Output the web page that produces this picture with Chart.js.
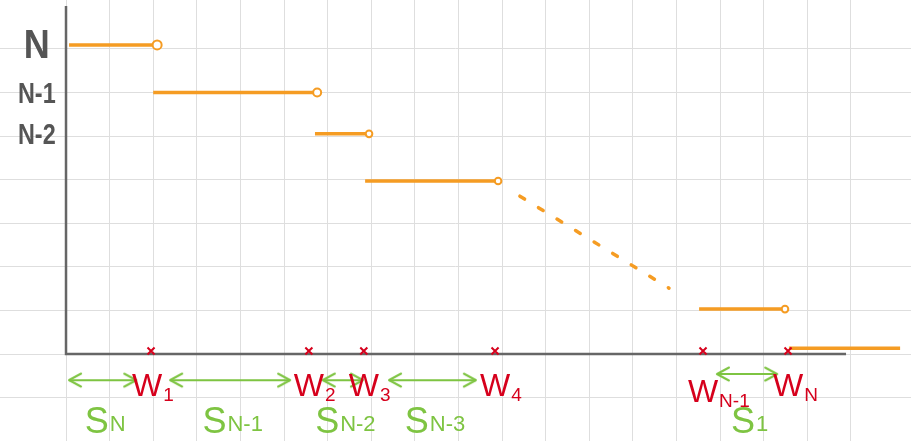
<!DOCTYPE html>
<html><head><meta charset="utf-8">
<script src="https://cdn.jsdelivr.net/npm/chart.js@4/dist/chart.umd.min.js"></script>
<style>html,body{margin:0;padding:0;background:#fff;overflow:hidden}canvas{display:block}</style>
</head><body>
<canvas id="c" width="911" height="441"></canvas>
<script>
// Values in "grid squares" of the sketch paper; origin at the corner of the axes.
const stepLevels = [7.09, 6.0, 5.05, 3.97, 1.03, 0.13];
const stepStarts = [0.07, 2.0, 5.71, 6.86, 14.52, 16.58];
const stepEnds   = [2.09, 5.76, 6.95, 9.91, 16.49, 19.13];
const openEnds   = [true, true, true, true, true, false];
const levelLabels = ['N', 'N-1', 'N-2'];
const trailX = [10.41, 13.83];
const trailY = [3.62, 1.51];
const wPositions = [1.95, 5.57, 6.83, 9.84, 14.61, 16.56];
const wSubs = ['1', '2', '3', '4', 'N-1', 'N'];
const sFrom = [0.07, 2.39, 5.89, 7.41, 14.93];
const sTo   = [1.61, 5.14, 6.81, 9.40, 16.31];
const sLevels = [-0.6, -0.6, -0.6, -0.6, -0.46];
const sSubs = ['N', 'N-1', 'N-2', 'N-3', '1'];
const axisTop = 7.98, axisRight = 17.89;
const xMin = -1.514, xMax = 19.38, yMin = -1.995, yMax = 8.12;

const ORANGE = 'rgb(245,156,35)', RED = 'rgb(214,0,28)', GREEN = 'rgb(126,196,66)', AXIS = '#666';
const FONT = '"Liberation Sans", "DejaVu Sans", sans-serif';

// step segments, broken by null points
const stepData = [];
stepLevels.forEach((v, i) => {
  stepData.push({x: stepStarts[i], y: v}, {x: stepEnds[i], y: v}, {x: stepEnds[i], y: null});
});
const circleData = [];
const circleR = [];
stepLevels.forEach((v, i) => {
  if (openEnds[i]) { circleData.push({x: stepEnds[i], y: v}); circleR.push(i === 0 ? 4.5 : (i === 1 ? 4 : 3.3)); }
});
const crossData = wPositions.map(x => ({x, y: 0.07}));
const arrowData = [];
sFrom.forEach((a, i) => {
  arrowData.push({x: a, y: sLevels[i]}, {x: sTo[i], y: sLevels[i]}, {x: sTo[i], y: null});
});

// open chevron arrow head (tip at centre of the image)
const head = document.createElement('canvas');
head.width = 30; head.height = 18;
(() => {
  const g = head.getContext('2d');
  g.strokeStyle = GREEN; g.lineWidth = 2; g.lineCap = 'round'; g.lineJoin = 'round';
  g.beginPath(); g.moveTo(3, 2.5); g.lineTo(15, 9); g.lineTo(3, 15.5); g.stroke();
})();

function drawLabel(ctx, main, sub, px, py, color, mSize, sSize, subDy) {
  ctx.save();
  ctx.fillStyle = color;
  ctx.textBaseline = 'alphabetic';
  ctx.font = mSize + 'px ' + FONT;
  ctx.textAlign = 'center';
  const mw = ctx.measureText(main).width;
  ctx.fillText(main, px, py);
  if (sub) {
    ctx.font = sSize + 'px ' + FONT;
    ctx.textAlign = 'left';
    ctx.fillText(sub, px + mw / 2 + 1, py + subDy);
  }
  ctx.restore();
}

const sketchText = {
  id: 'sketchText',
  afterDatasetsDraw(chart) {
    const {ctx, scales: {x, y}} = chart;
    // level labels on the vertical axis
    levelLabels.forEach((t, i) => {
      ctx.save();
      ctx.fillStyle = '#555';
      ctx.font = 'bold ' + (i === 0 ? 40 : 30) + 'px ' + FONT;
      ctx.textAlign = 'center';
      ctx.textBaseline = 'middle';
      ctx.translate(x.getPixelForValue(-0.67), y.getPixelForValue(stepLevels[i]) + 2);
      ctx.scale(i === 0 ? 0.9 : 0.78, 1);
      ctx.fillText(t, 0, 0);
      ctx.restore();
    });
    // W labels (the N-1 one sits a little lower, under the S1 arrow)
    wPositions.forEach((w, i) => {
      const dy = wSubs[i] === 'N-1' ? 6 : 0;
      drawLabel(ctx, 'W', wSubs[i], x.getPixelForValue(w) + (i === 0 ? -4 : 0), y.getPixelForValue(-0.96) + dy, RED, 32, 19, 5);
    });
    // S labels
    const sBase = Math.min(...sLevels) - 1.22;
    sFrom.forEach((a, i) => {
      const mid = (a + sTo[i]) / 2;
      const sub = sSubs[i];
      ctx.save();
      ctx.font = '22px ' + FONT;
      const sw = ctx.measureText(sub).width;
      ctx.restore();
      drawLabel(ctx, 'S', sub, x.getPixelForValue(mid) - sw / 2 + 2, y.getPixelForValue(sBase), GREEN, 36, 22, -2);
    });
  }
};

new Chart(document.getElementById('c'), {
  type: 'scatter',
  data: {
    datasets: [
      {data: crossData, pointStyle: 'crossRot', pointRadius: 5, borderColor: RED, pointBorderWidth: 2, showLine: false, order: 0},
      {data: circleData, pointRadius: circleR, pointBackgroundColor: '#fff', pointBorderColor: ORANGE, pointBorderWidth: 2, showLine: false, order: 1},
      {data: stepData, showLine: true, borderColor: ORANGE, borderWidth: 3.5, pointRadius: 0, spanGaps: false, order: 2},
      {data: trailX.map((v, i) => ({x: v, y: trailY[i]})), showLine: true, borderColor: ORANGE, borderWidth: 3.5,
       borderDash: [5.5, 16.3], borderCapStyle: 'round', pointRadius: 0, order: 3},
      {data: arrowData, showLine: true, borderColor: GREEN, borderWidth: 2, spanGaps: false,
       pointStyle: head, pointRadius: 6, pointRotation: c => (c.dataIndex % 3 === 0 ? 180 : 0), order: 4},
      {data: [{x: 0, y: axisTop}, {x: 0, y: 0}, {x: axisRight, y: 0}], showLine: true, borderColor: AXIS, borderWidth: 2.5, pointRadius: 0, order: 5}
    ]
  },
  options: {
    responsive: false, animation: false, devicePixelRatio: 1,
    layout: {padding: 0, autoPadding: false},
    plugins: {legend: {display: false}, tooltip: {enabled: false}},
    scales: {
      x: {type: 'linear', min: xMin, max: xMax, ticks: {display: false, stepSize: 1},
          grid: {drawTicks: false, lineWidth: 1, color: c => Number.isInteger(c.tick && c.tick.value) ? '#dedede' : 'rgba(0,0,0,0)'},
          border: {display: false}, afterFit: s => { s.height = 0; }},
      y: {type: 'linear', min: yMin, max: yMax, ticks: {display: false, stepSize: 1},
          grid: {drawTicks: false, lineWidth: 1, color: c => Number.isInteger(c.tick && c.tick.value) ? '#dedede' : 'rgba(0,0,0,0)'},
          border: {display: false}, afterFit: s => { s.width = 0; }}
    }
  },
  plugins: [sketchText]
});
</script>
</body></html>
